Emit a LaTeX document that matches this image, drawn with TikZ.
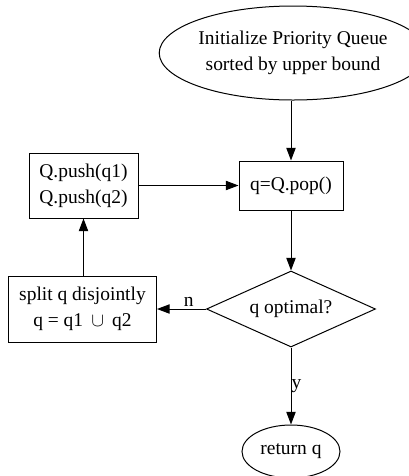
\documentclass[tikz,border=0pt]{standalone}
\usepackage{fontspec}
\setmainfont{Liberation Serif}
\usepackage{tikz}
\usetikzlibrary{arrows.meta,positioning,shapes.geometric}

\begin{document}
\begin{tikzpicture}[
  font=\fontsize{14.6pt}{19.5pt}\selectfont,
  rbox/.style  = {draw=black, rectangle, align=center, inner sep=0pt,
                  line width=0.75pt},
  ebox/.style  = {draw=black, ellipse, align=center, inner sep=0pt,
                  line width=0.75pt},
  dbox/.style  = {draw=black, diamond, aspect=2.22, align=center, inner sep=0pt,
                  line width=0.75pt},
  arr/.style   = {-{Triangle[length=9.5pt,width=7pt]}, line width=0.75pt},
  lbl/.style   = {inner sep=1.5pt},
]
\useasboundingbox (0,0) rectangle (306pt,-357pt);
\node[ebox, minimum width=168pt, minimum height=70.5pt] (init) at (219.75pt,-39.75pt)
    {Initialize Priority Queue\\sorted by upper bound};
\node[rbox, minimum width=78pt, minimum height=36.75pt, below=45pt of init, xshift=-1.5pt] (pop)
    {q=Q.pop()};
\draw[arr] (init.south -| pop.north) -- (pop.north);
\node[dbox, minimum width=126.75pt, minimum height=57pt, below=45pt of pop] (cond)
    {q optimal?};
\draw[arr] (pop.south) -- (cond.north);
\node[ebox, minimum width=73.5pt, minimum height=39.75pt, below=57.75pt of cond] (ret)
    {return q};
\draw[arr] (cond.south) -- node[lbl, right, pos=0.5, xshift=-1.5pt]{y} (ret.north);
\node[rbox, minimum width=111pt, minimum height=49.5pt, left=36.75pt of cond] (split)
    {split q disjointly\\q = q1 \,$\cup$\, q2};
\draw[arr] (cond.west) -- node[lbl, above, pos=0.35]{n} (split.east);
\node[rbox, minimum width=81.75pt, minimum height=48.75pt, above=42.75pt of split, xshift=0.75pt] (push)
    {Q.push(q1)\\Q.push(q2)};
\draw[arr] (split.north -| push.south) -- (push.south);
\draw[arr] (push.east) -- (push.east -| pop.west);
\end{tikzpicture}
\end{document}
